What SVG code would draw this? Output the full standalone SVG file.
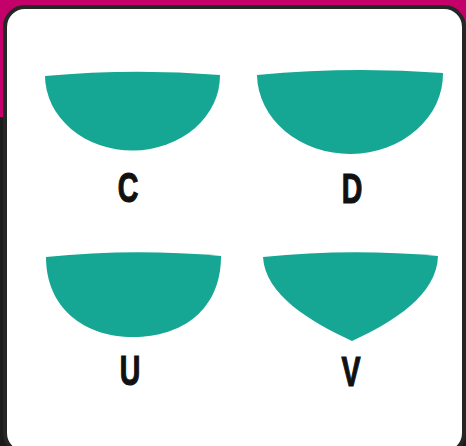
<svg xmlns="http://www.w3.org/2000/svg" width="466" height="446" viewBox="0 0 466 446">
  <style>
    .shape { fill: #16a694; }
    .lbl { font-family: "Liberation Sans", Arial, sans-serif; font-weight: bold; font-size: 42px; fill: #111; stroke: #111; stroke-width: 1.2; text-anchor: middle; }
  </style>
  <rect x="0" y="0" width="466" height="446" fill="#1b1b1b"/>
  <rect x="0" y="0" width="466" height="117" fill="#c4006a"/>
  <rect id="card" x="5" y="7" width="459" height="446" rx="20" ry="20" fill="#ffffff" stroke="#262626" stroke-width="4"/>

  <g id="node-C">
    <path class="shape" d="M45,76 Q132,68 220,75 A87.5 75 0 0 1 45,76 Z"/>
    <text class="lbl" transform="translate(128,202) scale(0.68,1)">C</text>
  </g>
  <g id="node-D">
    <path class="shape" d="M257,75 Q350,66 443,73 A93 80 0 0 1 257,75 Z"/>
    <text class="lbl" transform="translate(352,203) scale(0.68,1)">D</text>
  </g>
  <g id="node-U">
    <path class="shape" d="M46,257 Q133,248 221,256 C221,310 182,337 133,337 C84,337 46,308 46,257 Z"/>
    <text class="lbl" transform="translate(130,385) scale(0.68,1)">U</text>
  </g>
  <g id="node-V">
    <path class="shape" d="M263,257 Q350,248 438,256 C437,295 393,322 352,341 C311,322 265,295 263,257 Z"/>
    <text class="lbl" transform="translate(351,386) scale(0.68,1)">V</text>
  </g>
</svg>
